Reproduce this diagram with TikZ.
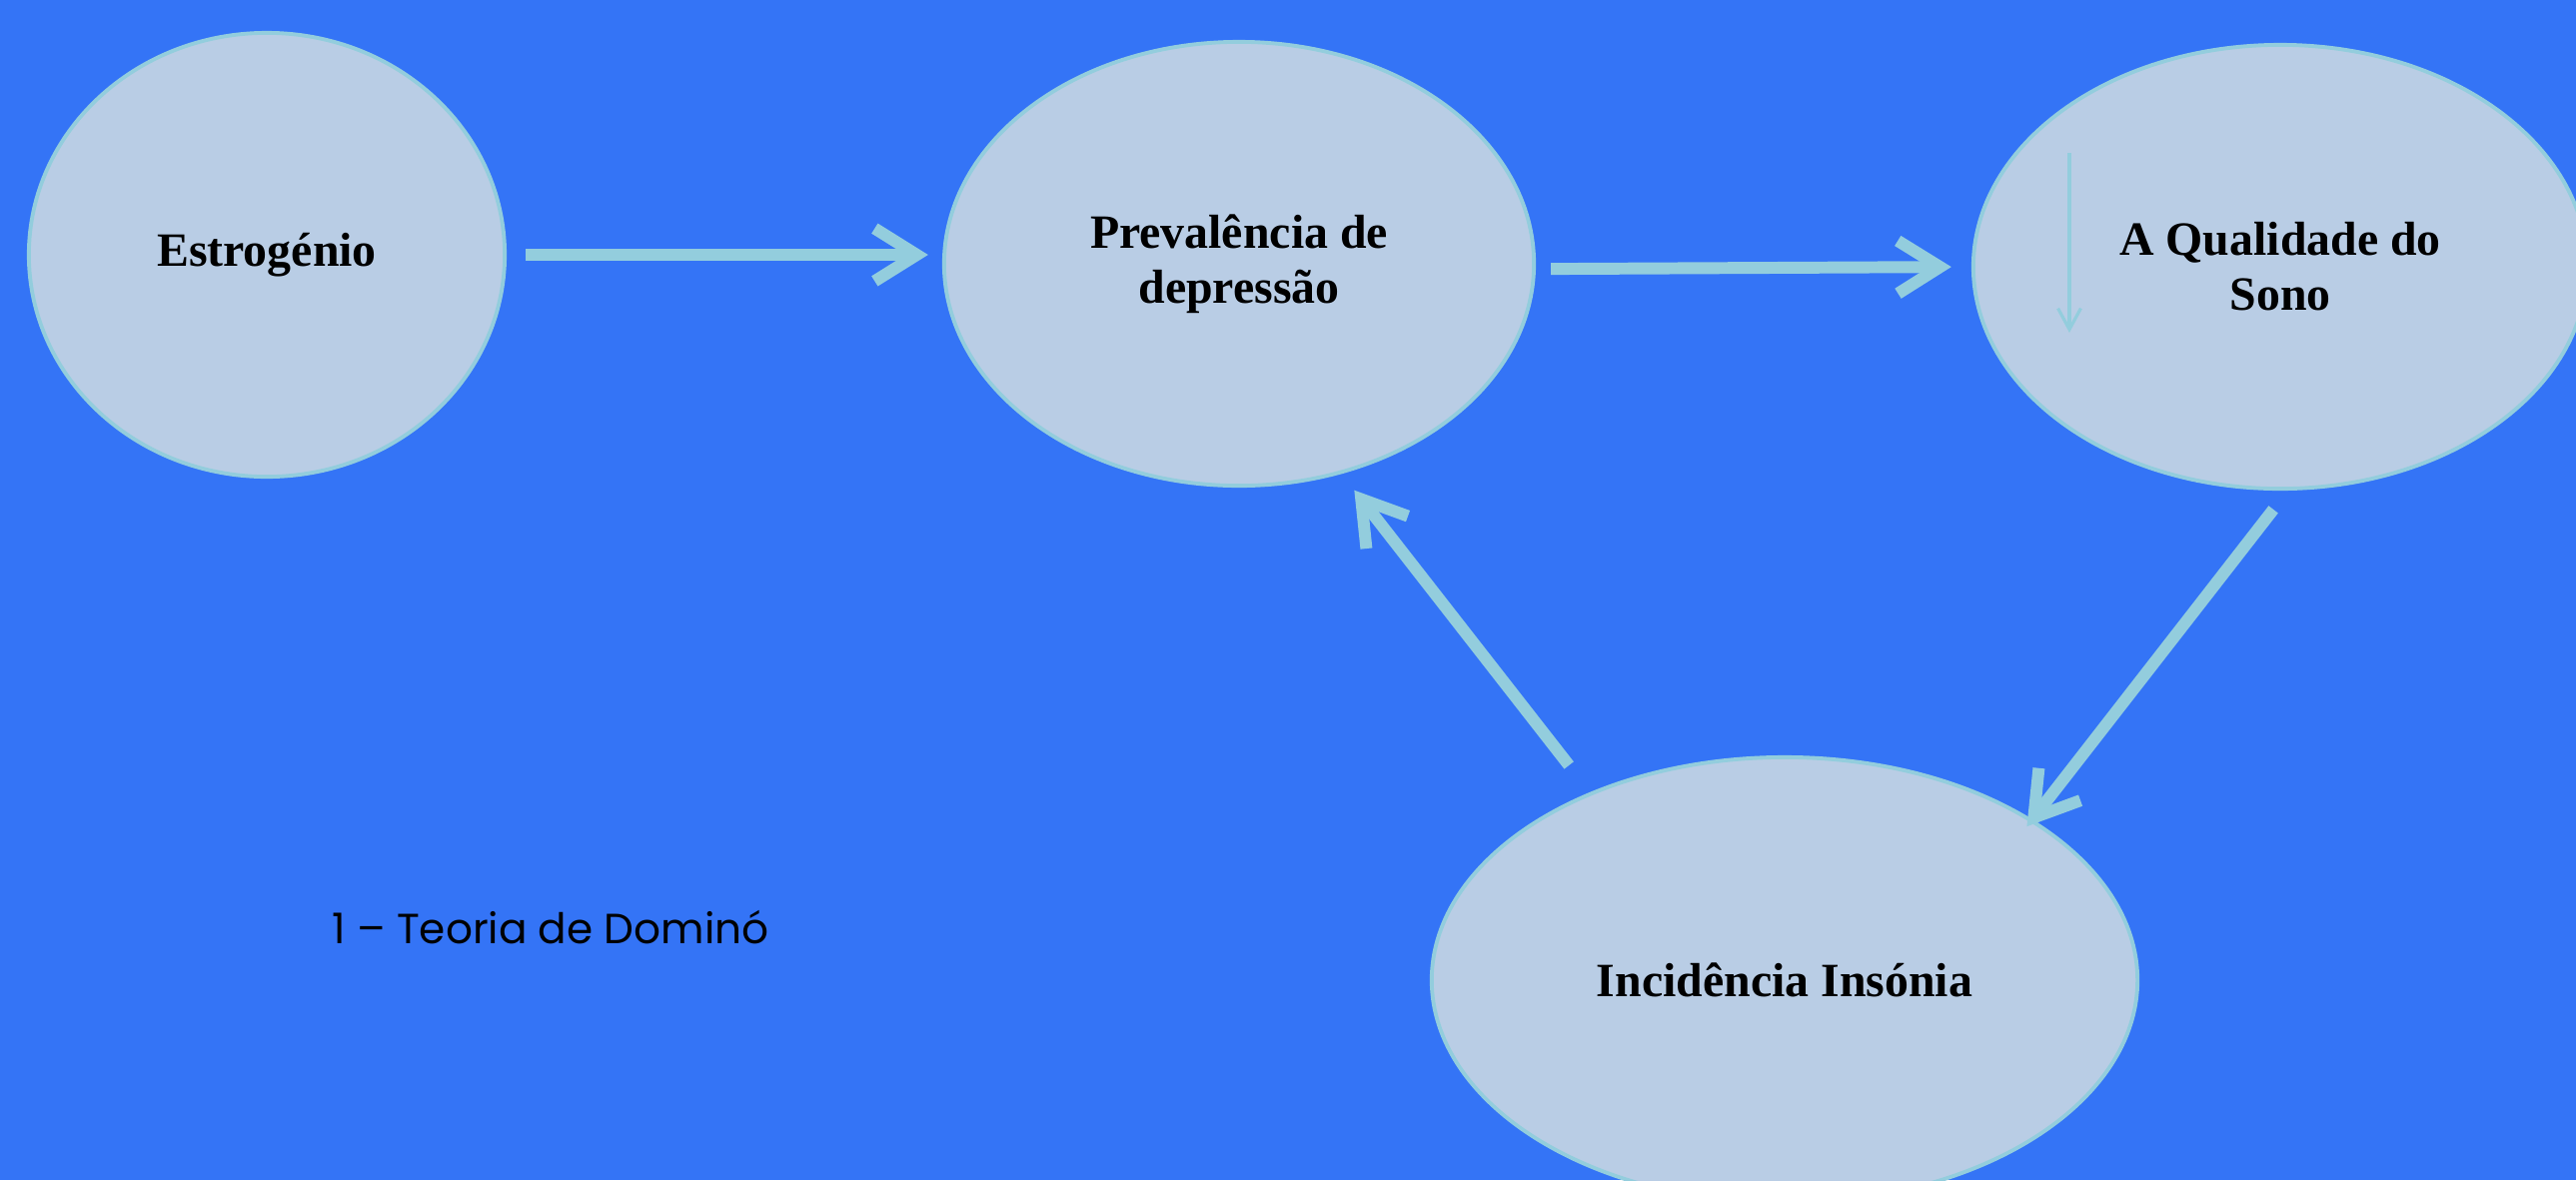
\documentclass[tikz,border=0pt]{standalone}
\usepackage{fontspec}
\setmainfont{Liberation Serif}
\newfontfamily\capfont{Poppins}
\usetikzlibrary{shapes.geometric,arrows.meta}
\definecolor{bgblue}{HTML}{3474F6}
\definecolor{bubblefill}{HTML}{B9CDE5}
\definecolor{edgeblue}{HTML}{93CDDD}
\begin{document}
\begin{tikzpicture}[x=0.01cm,y=-0.01cm,
	bubble/.style={ellipse,draw=edgeblue,fill=bubblefill,line width=1.1pt,inner sep=0pt,align=center,
		font=\fontsize{13.6}{15.6}\selectfont\bfseries},
	flow/.style={draw=edgeblue,line width=3.4pt,-{Straight Barb[length=12pt,width=15pt]}},
	thinflow/.style={draw=edgeblue,line width=0.9pt,-{Straight Barb[length=6pt,width=6.5pt]}}]
\useasboundingbox (0,0) rectangle (2578,1181);
\clip (0,0) rectangle (2578,1181);
\fill[bgblue] (0,0) rectangle (2578,1181);
\node[bubble,minimum width=4.76cm,minimum height=4.44cm] (estro) at (267,255) {Estrogénio};
\node[bubble,minimum width=5.9cm,minimum height=4.44cm] (prev) at (1240,264) {Prevalência de\\depressão};
\node[bubble,minimum width=6.14cm,minimum height=4.44cm] (qual) at (2282,267) {A Qualidade do\\Sono};
\node[bubble,minimum width=7.06cm,minimum height=4.46cm] (inci) at (1786,981) {Incidência Insónia};
\node[font=\capfont\fontsize{12}{14}\selectfont] (cap) at (551,928) {1 – Teoria de Dominó};
\draw[flow,shorten <=5.4pt,shorten >=4pt] (estro.east) -- (estro.east -| prev.west);
\draw[flow,shorten <=4.3pt,shorten >=5.7pt] (prev.-1) -- (qual.180.4);
\draw[flow,shorten <=6.8pt,shorten >=-2.6pt] (qual.-88.2) -- (inci.33.4);
\draw[flow,shorten <=9.7pt,shorten >=5.9pt] (inci.136.2) -- (prev.-64.8);
\coordinate (sa) at (2071,153);
\coordinate (sb) at (2071,333);
\draw[thinflow] (sa) -- (sb);
\end{tikzpicture}
\end{document}
